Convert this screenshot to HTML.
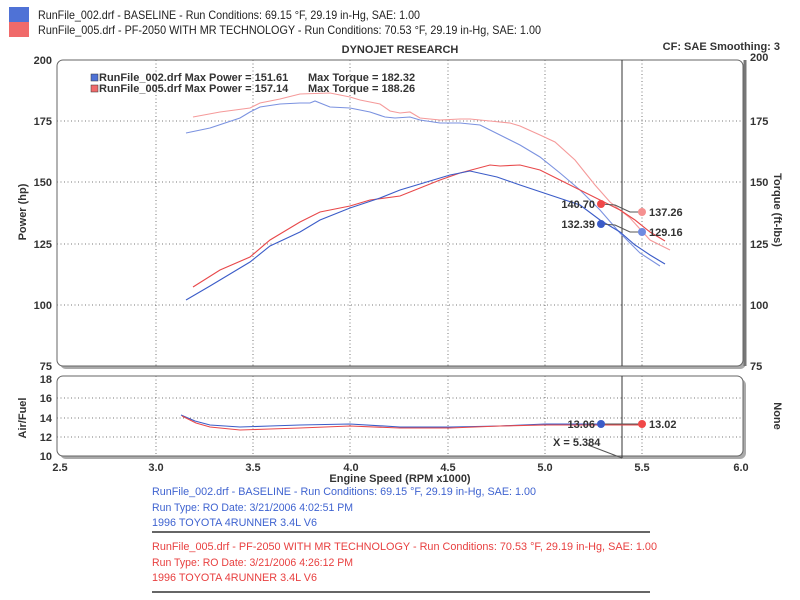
<!DOCTYPE html>
<html><head><meta charset="utf-8"><style>
body{margin:0;background:#fff;}
svg{display:block;font-family:"Liberation Sans",sans-serif;}
.b{font-weight:bold;font-size:11px;fill:#333;}
</style></head><body>
<svg width="800" height="600" viewBox="0 0 800 600" xmlns="http://www.w3.org/2000/svg">
<rect x="0" y="0" width="800" height="600" fill="#fff"/>
<rect x="9" y="7" width="20" height="15" fill="#4f72d6"/>
<rect x="9" y="22" width="20" height="15" fill="#f06a6a"/>
<text x="38" y="19" font-size="12" fill="#222" textLength="382" lengthAdjust="spacingAndGlyphs">RunFile_002.drf - BASELINE  -  Run Conditions: 69.15 °F, 29.19 in-Hg, SAE: 1.00</text>
<text x="38" y="34" font-size="12" fill="#222" textLength="503" lengthAdjust="spacingAndGlyphs">RunFile_005.drf - PF-2050 WITH MR TECHNOLOGY  -  Run Conditions: 70.53 °F, 29.19 in-Hg, SAE: 1.00</text>
<text x="400" y="53" class="b" text-anchor="middle">DYNOJET RESEARCH</text>
<text x="780" y="50" class="b" text-anchor="end">CF: SAE  Smoothing: 3</text>

<rect x="60" y="63" width="686" height="306" rx="6" fill="#aaa"/>
<rect x="57" y="60" width="686" height="306" rx="6" fill="#fff" stroke="#666" stroke-width="1"/>
<rect x="60" y="379" width="686" height="80" rx="6" fill="#aaa"/>
<rect x="57" y="376" width="686" height="80" rx="6" fill="#fff" stroke="#666" stroke-width="1"/>

<g stroke="#777" stroke-dasharray="1,2.5" stroke-width="1">
<line x1="156" y1="60" x2="156" y2="366"/><line x1="253" y1="60" x2="253" y2="366"/><line x1="350" y1="60" x2="350" y2="366"/><line x1="448" y1="60" x2="448" y2="366"/><line x1="545" y1="60" x2="545" y2="366"/><line x1="642" y1="60" x2="642" y2="366"/>
<line x1="57" y1="121" x2="743" y2="121"/><line x1="57" y1="182" x2="743" y2="182"/><line x1="57" y1="244" x2="743" y2="244"/><line x1="57" y1="305" x2="743" y2="305"/>
<line x1="156" y1="376" x2="156" y2="456"/><line x1="253" y1="376" x2="253" y2="456"/><line x1="350" y1="376" x2="350" y2="456"/><line x1="448" y1="376" x2="448" y2="456"/><line x1="545" y1="376" x2="545" y2="456"/><line x1="642" y1="376" x2="642" y2="456"/>
<line x1="57" y1="398" x2="743" y2="398"/><line x1="57" y1="418" x2="743" y2="418"/><line x1="57" y1="437" x2="743" y2="437"/>
</g>
<line x1="622" y1="60" x2="622" y2="366" stroke="#333"/>
<line x1="622" y1="376" x2="622" y2="458" stroke="#333"/>
<line x1="745" y1="60" x2="745" y2="366" stroke="#777" stroke-width="3"/>

<g>
<text x="52" y="64" text-anchor="end" class="b">200</text>
<text x="52" y="125" text-anchor="end" class="b">175</text>
<text x="52" y="186" text-anchor="end" class="b">150</text>
<text x="52" y="248" text-anchor="end" class="b">125</text>
<text x="52" y="309" text-anchor="end" class="b">100</text>
<text x="52" y="370" text-anchor="end" class="b">75</text>
<text x="750" y="61" class="b">200</text>
<text x="750" y="125" class="b">175</text>
<text x="750" y="186" class="b">150</text>
<text x="750" y="248" class="b">125</text>
<text x="750" y="309" class="b">100</text>
<text x="750" y="370" class="b">75</text>
<text x="52" y="383" text-anchor="end" class="b">18</text>
<text x="52" y="402" text-anchor="end" class="b">16</text>
<text x="52" y="422" text-anchor="end" class="b">14</text>
<text x="52" y="441" text-anchor="end" class="b">12</text>
<text x="52" y="460" text-anchor="end" class="b">10</text>
<text x="60" y="471" text-anchor="middle" class="b">2.5</text>
<text x="156" y="471" text-anchor="middle" class="b">3.0</text>
<text x="253" y="471" text-anchor="middle" class="b">3.5</text>
<text x="351" y="471" text-anchor="middle" class="b">4.0</text>
<text x="448" y="471" text-anchor="middle" class="b">4.5</text>
<text x="545" y="471" text-anchor="middle" class="b">5.0</text>
<text x="642" y="471" text-anchor="middle" class="b">5.5</text>
<text x="741" y="471" text-anchor="middle" class="b">6.0</text>
<text x="400" y="482" text-anchor="middle" class="b">Engine Speed (RPM x1000)</text>
<text transform="translate(26,212) rotate(-90)" text-anchor="middle" class="b">Power (hp)</text>
<text transform="translate(774,210) rotate(90)" text-anchor="middle" class="b">Torque (ft-lbs)</text>
<text transform="translate(26,418) rotate(-90)" text-anchor="middle" class="b">Air/Fuel</text>
<text transform="translate(774,416) rotate(90)" text-anchor="middle" class="b">None</text>
</g>

<rect x="91" y="74" width="7" height="7" fill="#4f72d6" stroke="#333" stroke-width=".5"/>
<rect x="91" y="85" width="7" height="7" fill="#f06a6a" stroke="#333" stroke-width=".5"/>
<text x="99" y="81" class="b">RunFile_002.drf Max Power = 151.61</text>
<text x="99" y="92" class="b">RunFile_005.drf Max Power = 157.14</text>
<text x="308" y="81" class="b">Max Torque = 182.32</text>
<text x="308" y="92" class="b">Max Torque = 188.26</text>

<g fill="none" stroke-width="1.1">
<polyline stroke="#f59a9a" points="193,117 220,112 250,108 260,103 280,99 300,94 330,93 350,97 360,100 380,104 390,111 400,113 410,112 420,118 440,120 460,119 470,119 490,121 510,123 520,126 540,135 555,142 575,160 595,185 610,202 630,218 650,240 670,250"/>
<polyline stroke="#7b92e0" points="186,133 210,128 240,118 250,112 260,107 280,104 300,103 310,103 315,101 330,107 350,108 370,112 385,117 395,118 410,117 420,120 440,123 460,123 480,125 500,135 520,145 540,157 560,173 580,190 600,210 620,233 640,253 660,266"/>
<polyline stroke="#e8484a" points="193,287 220,270 250,257 270,240 300,222 320,212 350,206 370,200 400,196 420,188 440,180 460,173 490,165 500,166 520,165 540,170 560,180 580,190 600,200 620,210 635,220 650,232 665,241"/>
<polyline stroke="#3b5cc8" points="186,300 210,286 250,262 270,246 300,232 320,220 350,208 380,198 400,190 420,184 450,175 470,171 497,177 520,185 550,195 580,205 600,220 620,232 635,245 650,255 665,264"/>
<polyline stroke="#3b5cc8" points="181,415 195,421 210,425 240,427 270,426 300,425 350,424 400,427 450,427 500,426 545,424 642,424"/>
<polyline stroke="#e8484a" points="182,416 196,423 210,427 240,430 270,429 300,428 350,426 400,428 450,428 500,426 545,425 642,425"/>
</g>
<g stroke="#555" stroke-width="1" fill="none">
<polyline points="601,204 615,205 630,212 642,212"/>
<polyline points="601,224 615,225 630,232 642,232"/>
<line x1="601" y1="424" x2="642" y2="424"/>
<line x1="588" y1="445" x2="622" y2="458"/>
</g>
<circle cx="601" cy="204" r="4" fill="#f04848"/>
<circle cx="642" cy="212" r="4" fill="#f59090"/>
<circle cx="601" cy="224" r="4" fill="#3b5cc8"/>
<circle cx="642" cy="232" r="4" fill="#6f8ae0"/>
<circle cx="601" cy="424" r="4" fill="#3b5cc8"/>
<circle cx="642" cy="424" r="4" fill="#f04848"/>
<text x="595" y="208" text-anchor="end" class="b">140.70</text>
<text x="595" y="228" text-anchor="end" class="b">132.39</text>
<text x="649" y="216" class="b">137.26</text>
<text x="649" y="236" class="b">129.16</text>
<text x="595" y="428" text-anchor="end" class="b">13.06</text>
<text x="649" y="428" class="b">13.02</text>
<text x="553" y="446" class="b">X = 5.384</text>

<g font-size="11">
<text x="152" y="495" fill="#3f63d0" textLength="384" lengthAdjust="spacingAndGlyphs">RunFile_002.drf - BASELINE  -  Run Conditions: 69.15 °F, 29.19 in-Hg, SAE: 1.00</text>
<text x="152" y="511" fill="#3f63d0" textLength="201" lengthAdjust="spacingAndGlyphs">Run Type: RO  Date: 3/21/2006 4:02:51 PM</text>
<text x="152" y="526" fill="#3f63d0" textLength="165" lengthAdjust="spacingAndGlyphs">1996 TOYOTA 4RUNNER 3.4L V6</text>
<line x1="152" y1="532" x2="650" y2="532" stroke="#333" stroke-width="1.5"/>
<text x="152" y="550" fill="#e84040" textLength="505" lengthAdjust="spacingAndGlyphs">RunFile_005.drf - PF-2050 WITH MR TECHNOLOGY  -  Run Conditions: 70.53 °F, 29.19 in-Hg, SAE: 1.00</text>
<text x="152" y="566" fill="#e84040" textLength="201" lengthAdjust="spacingAndGlyphs">Run Type: RO  Date: 3/21/2006 4:26:12 PM</text>
<text x="152" y="581" fill="#e84040" textLength="165" lengthAdjust="spacingAndGlyphs">1996 TOYOTA 4RUNNER 3.4L V6</text>
<line x1="152" y1="592" x2="650" y2="592" stroke="#333" stroke-width="1.5"/>
</g>
</svg>
</body></html>
